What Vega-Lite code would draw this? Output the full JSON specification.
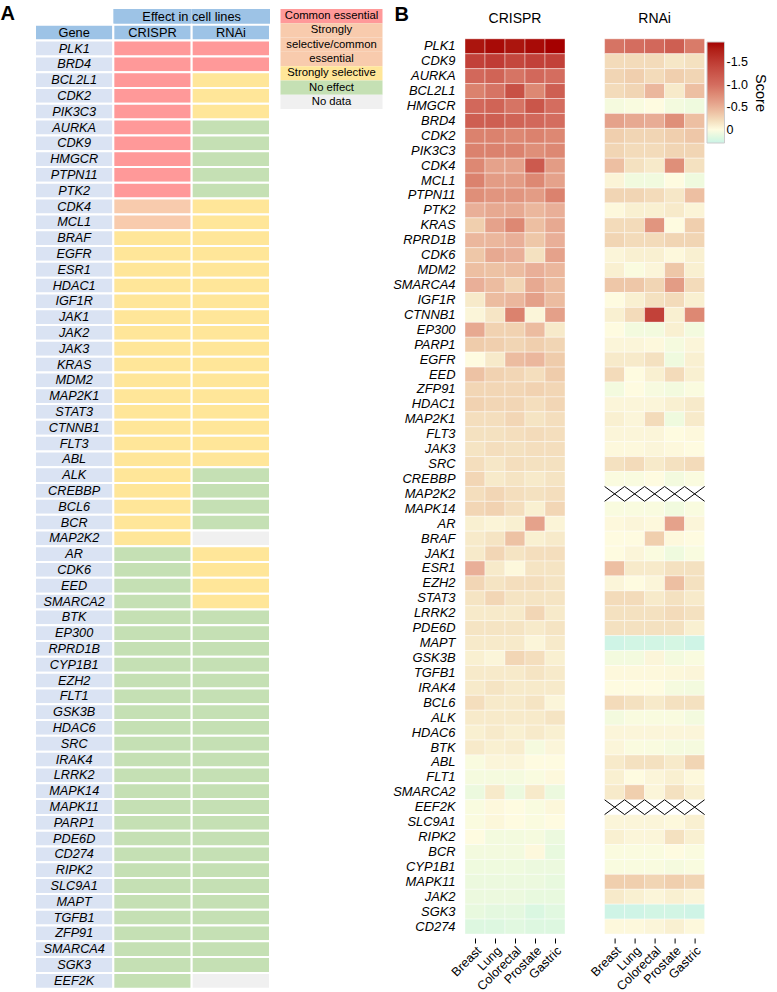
{
"$schema": "https://vega.github.io/schema/vega-lite/v6.json",
"padding": {"left": 0, "top": 4, "right": 0, "bottom": 0},
"background": "white",
"config": {"view": {"stroke": null}, "font": "Liberation Sans",
  "legend": {"labelFontSize": 12.5, "labelColor": "black", "labelOffset": 10, "labelFont": "Liberation Sans",
    "titleFontSize": 14.5, "titleFontWeight": "normal", "titleColor": "black", "titleFont": "Liberation Sans",
    "gradientLength": 101, "gradientThickness": 17.5, "gradientStrokeColor": "#cccccc", "gradientStrokeWidth": 1}},
"spacing": 9.5,
"datasets": {
"effectHeader": [{"row": "h1", "col": "CRISPR", "cat": "header"}, {"row": "h1", "col": "RNAi", "cat": "header"}],
"legendA": [
{"slot": "L1", "cat": "CE", "label": "Common essential"},
{"slot": "L2", "cat": "SC", "label": "Strongly"},
{"slot": "L3", "cat": "SC", "label": "selective/common"},
{"slot": "L4", "cat": "SC", "label": "essential"},
{"slot": "L5", "cat": "SS", "label": "Strongly selective"},
{"slot": "L6", "cat": "NE", "label": "No effect"},
{"slot": "L7", "cat": "ND", "label": "No data"}
],
"tableCells": [
{"row":"h2","col":"Gene","cat":"header","label":"Gene"},{"row":"h2","col":"CRISPR","cat":"header","label":"CRISPR"},{"row":"h2","col":"RNAi","cat":"header","label":"RNAi"},
{"row":"PLK1","col":"Gene","cat":"gene","label":"PLK1"},{"row":"PLK1","col":"CRISPR","cat":"CE"},{"row":"PLK1","col":"RNAi","cat":"CE"},
{"row":"BRD4","col":"Gene","cat":"gene","label":"BRD4"},{"row":"BRD4","col":"CRISPR","cat":"CE"},{"row":"BRD4","col":"RNAi","cat":"CE"},
{"row":"BCL2L1","col":"Gene","cat":"gene","label":"BCL2L1"},{"row":"BCL2L1","col":"CRISPR","cat":"CE"},{"row":"BCL2L1","col":"RNAi","cat":"SS"},
{"row":"CDK2","col":"Gene","cat":"gene","label":"CDK2"},{"row":"CDK2","col":"CRISPR","cat":"CE"},{"row":"CDK2","col":"RNAi","cat":"SS"},
{"row":"PIK3C3","col":"Gene","cat":"gene","label":"PIK3C3"},{"row":"PIK3C3","col":"CRISPR","cat":"CE"},{"row":"PIK3C3","col":"RNAi","cat":"SS"},
{"row":"AURKA","col":"Gene","cat":"gene","label":"AURKA"},{"row":"AURKA","col":"CRISPR","cat":"CE"},{"row":"AURKA","col":"RNAi","cat":"NE"},
{"row":"CDK9","col":"Gene","cat":"gene","label":"CDK9"},{"row":"CDK9","col":"CRISPR","cat":"CE"},{"row":"CDK9","col":"RNAi","cat":"NE"},
{"row":"HMGCR","col":"Gene","cat":"gene","label":"HMGCR"},{"row":"HMGCR","col":"CRISPR","cat":"CE"},{"row":"HMGCR","col":"RNAi","cat":"NE"},
{"row":"PTPN11","col":"Gene","cat":"gene","label":"PTPN11"},{"row":"PTPN11","col":"CRISPR","cat":"CE"},{"row":"PTPN11","col":"RNAi","cat":"NE"},
{"row":"PTK2","col":"Gene","cat":"gene","label":"PTK2"},{"row":"PTK2","col":"CRISPR","cat":"CE"},{"row":"PTK2","col":"RNAi","cat":"NE"},
{"row":"CDK4","col":"Gene","cat":"gene","label":"CDK4"},{"row":"CDK4","col":"CRISPR","cat":"SC"},{"row":"CDK4","col":"RNAi","cat":"SS"},
{"row":"MCL1","col":"Gene","cat":"gene","label":"MCL1"},{"row":"MCL1","col":"CRISPR","cat":"SC"},{"row":"MCL1","col":"RNAi","cat":"SS"},
{"row":"BRAF","col":"Gene","cat":"gene","label":"BRAF"},{"row":"BRAF","col":"CRISPR","cat":"SS"},{"row":"BRAF","col":"RNAi","cat":"SS"},
{"row":"EGFR","col":"Gene","cat":"gene","label":"EGFR"},{"row":"EGFR","col":"CRISPR","cat":"SS"},{"row":"EGFR","col":"RNAi","cat":"SS"},
{"row":"ESR1","col":"Gene","cat":"gene","label":"ESR1"},{"row":"ESR1","col":"CRISPR","cat":"SS"},{"row":"ESR1","col":"RNAi","cat":"SS"},
{"row":"HDAC1","col":"Gene","cat":"gene","label":"HDAC1"},{"row":"HDAC1","col":"CRISPR","cat":"SS"},{"row":"HDAC1","col":"RNAi","cat":"SS"},
{"row":"IGF1R","col":"Gene","cat":"gene","label":"IGF1R"},{"row":"IGF1R","col":"CRISPR","cat":"SS"},{"row":"IGF1R","col":"RNAi","cat":"SS"},
{"row":"JAK1","col":"Gene","cat":"gene","label":"JAK1"},{"row":"JAK1","col":"CRISPR","cat":"SS"},{"row":"JAK1","col":"RNAi","cat":"SS"},
{"row":"JAK2","col":"Gene","cat":"gene","label":"JAK2"},{"row":"JAK2","col":"CRISPR","cat":"SS"},{"row":"JAK2","col":"RNAi","cat":"SS"},
{"row":"JAK3","col":"Gene","cat":"gene","label":"JAK3"},{"row":"JAK3","col":"CRISPR","cat":"SS"},{"row":"JAK3","col":"RNAi","cat":"SS"},
{"row":"KRAS","col":"Gene","cat":"gene","label":"KRAS"},{"row":"KRAS","col":"CRISPR","cat":"SS"},{"row":"KRAS","col":"RNAi","cat":"SS"},
{"row":"MDM2","col":"Gene","cat":"gene","label":"MDM2"},{"row":"MDM2","col":"CRISPR","cat":"SS"},{"row":"MDM2","col":"RNAi","cat":"SS"},
{"row":"MAP2K1","col":"Gene","cat":"gene","label":"MAP2K1"},{"row":"MAP2K1","col":"CRISPR","cat":"SS"},{"row":"MAP2K1","col":"RNAi","cat":"SS"},
{"row":"STAT3","col":"Gene","cat":"gene","label":"STAT3"},{"row":"STAT3","col":"CRISPR","cat":"SS"},{"row":"STAT3","col":"RNAi","cat":"SS"},
{"row":"CTNNB1","col":"Gene","cat":"gene","label":"CTNNB1"},{"row":"CTNNB1","col":"CRISPR","cat":"SS"},{"row":"CTNNB1","col":"RNAi","cat":"SS"},
{"row":"FLT3","col":"Gene","cat":"gene","label":"FLT3"},{"row":"FLT3","col":"CRISPR","cat":"SS"},{"row":"FLT3","col":"RNAi","cat":"SS"},
{"row":"ABL","col":"Gene","cat":"gene","label":"ABL"},{"row":"ABL","col":"CRISPR","cat":"SS"},{"row":"ABL","col":"RNAi","cat":"SS"},
{"row":"ALK","col":"Gene","cat":"gene","label":"ALK"},{"row":"ALK","col":"CRISPR","cat":"SS"},{"row":"ALK","col":"RNAi","cat":"NE"},
{"row":"CREBBP","col":"Gene","cat":"gene","label":"CREBBP"},{"row":"CREBBP","col":"CRISPR","cat":"SS"},{"row":"CREBBP","col":"RNAi","cat":"NE"},
{"row":"BCL6","col":"Gene","cat":"gene","label":"BCL6"},{"row":"BCL6","col":"CRISPR","cat":"SS"},{"row":"BCL6","col":"RNAi","cat":"NE"},
{"row":"BCR","col":"Gene","cat":"gene","label":"BCR"},{"row":"BCR","col":"CRISPR","cat":"SS"},{"row":"BCR","col":"RNAi","cat":"NE"},
{"row":"MAP2K2","col":"Gene","cat":"gene","label":"MAP2K2"},{"row":"MAP2K2","col":"CRISPR","cat":"SS"},{"row":"MAP2K2","col":"RNAi","cat":"ND"},
{"row":"AR","col":"Gene","cat":"gene","label":"AR"},{"row":"AR","col":"CRISPR","cat":"NE"},{"row":"AR","col":"RNAi","cat":"SS"},
{"row":"CDK6","col":"Gene","cat":"gene","label":"CDK6"},{"row":"CDK6","col":"CRISPR","cat":"NE"},{"row":"CDK6","col":"RNAi","cat":"SS"},
{"row":"EED","col":"Gene","cat":"gene","label":"EED"},{"row":"EED","col":"CRISPR","cat":"NE"},{"row":"EED","col":"RNAi","cat":"SS"},
{"row":"SMARCA2","col":"Gene","cat":"gene","label":"SMARCA2"},{"row":"SMARCA2","col":"CRISPR","cat":"NE"},{"row":"SMARCA2","col":"RNAi","cat":"SS"},
{"row":"BTK","col":"Gene","cat":"gene","label":"BTK"},{"row":"BTK","col":"CRISPR","cat":"NE"},{"row":"BTK","col":"RNAi","cat":"NE"},
{"row":"EP300","col":"Gene","cat":"gene","label":"EP300"},{"row":"EP300","col":"CRISPR","cat":"NE"},{"row":"EP300","col":"RNAi","cat":"NE"},
{"row":"RPRD1B","col":"Gene","cat":"gene","label":"RPRD1B"},{"row":"RPRD1B","col":"CRISPR","cat":"NE"},{"row":"RPRD1B","col":"RNAi","cat":"NE"},
{"row":"CYP1B1","col":"Gene","cat":"gene","label":"CYP1B1"},{"row":"CYP1B1","col":"CRISPR","cat":"NE"},{"row":"CYP1B1","col":"RNAi","cat":"NE"},
{"row":"EZH2","col":"Gene","cat":"gene","label":"EZH2"},{"row":"EZH2","col":"CRISPR","cat":"NE"},{"row":"EZH2","col":"RNAi","cat":"NE"},
{"row":"FLT1","col":"Gene","cat":"gene","label":"FLT1"},{"row":"FLT1","col":"CRISPR","cat":"NE"},{"row":"FLT1","col":"RNAi","cat":"NE"},
{"row":"GSK3B","col":"Gene","cat":"gene","label":"GSK3B"},{"row":"GSK3B","col":"CRISPR","cat":"NE"},{"row":"GSK3B","col":"RNAi","cat":"NE"},
{"row":"HDAC6","col":"Gene","cat":"gene","label":"HDAC6"},{"row":"HDAC6","col":"CRISPR","cat":"NE"},{"row":"HDAC6","col":"RNAi","cat":"NE"},
{"row":"SRC","col":"Gene","cat":"gene","label":"SRC"},{"row":"SRC","col":"CRISPR","cat":"NE"},{"row":"SRC","col":"RNAi","cat":"NE"},
{"row":"IRAK4","col":"Gene","cat":"gene","label":"IRAK4"},{"row":"IRAK4","col":"CRISPR","cat":"NE"},{"row":"IRAK4","col":"RNAi","cat":"NE"},
{"row":"LRRK2","col":"Gene","cat":"gene","label":"LRRK2"},{"row":"LRRK2","col":"CRISPR","cat":"NE"},{"row":"LRRK2","col":"RNAi","cat":"NE"},
{"row":"MAPK14","col":"Gene","cat":"gene","label":"MAPK14"},{"row":"MAPK14","col":"CRISPR","cat":"NE"},{"row":"MAPK14","col":"RNAi","cat":"NE"},
{"row":"MAPK11","col":"Gene","cat":"gene","label":"MAPK11"},{"row":"MAPK11","col":"CRISPR","cat":"NE"},{"row":"MAPK11","col":"RNAi","cat":"NE"},
{"row":"PARP1","col":"Gene","cat":"gene","label":"PARP1"},{"row":"PARP1","col":"CRISPR","cat":"NE"},{"row":"PARP1","col":"RNAi","cat":"NE"},
{"row":"PDE6D","col":"Gene","cat":"gene","label":"PDE6D"},{"row":"PDE6D","col":"CRISPR","cat":"NE"},{"row":"PDE6D","col":"RNAi","cat":"NE"},
{"row":"CD274","col":"Gene","cat":"gene","label":"CD274"},{"row":"CD274","col":"CRISPR","cat":"NE"},{"row":"CD274","col":"RNAi","cat":"NE"},
{"row":"RIPK2","col":"Gene","cat":"gene","label":"RIPK2"},{"row":"RIPK2","col":"CRISPR","cat":"NE"},{"row":"RIPK2","col":"RNAi","cat":"NE"},
{"row":"SLC9A1","col":"Gene","cat":"gene","label":"SLC9A1"},{"row":"SLC9A1","col":"CRISPR","cat":"NE"},{"row":"SLC9A1","col":"RNAi","cat":"NE"},
{"row":"MAPT","col":"Gene","cat":"gene","label":"MAPT"},{"row":"MAPT","col":"CRISPR","cat":"NE"},{"row":"MAPT","col":"RNAi","cat":"NE"},
{"row":"TGFB1","col":"Gene","cat":"gene","label":"TGFB1"},{"row":"TGFB1","col":"CRISPR","cat":"NE"},{"row":"TGFB1","col":"RNAi","cat":"NE"},
{"row":"ZFP91","col":"Gene","cat":"gene","label":"ZFP91"},{"row":"ZFP91","col":"CRISPR","cat":"NE"},{"row":"ZFP91","col":"RNAi","cat":"NE"},
{"row":"SMARCA4","col":"Gene","cat":"gene","label":"SMARCA4"},{"row":"SMARCA4","col":"CRISPR","cat":"NE"},{"row":"SMARCA4","col":"RNAi","cat":"NE"},
{"row":"SGK3","col":"Gene","cat":"gene","label":"SGK3"},{"row":"SGK3","col":"CRISPR","cat":"NE"},{"row":"SGK3","col":"RNAi","cat":"NE"},
{"row":"EEF2K","col":"Gene","cat":"gene","label":"EEF2K"},{"row":"EEF2K","col":"CRISPR","cat":"NE"},{"row":"EEF2K","col":"RNAi","cat":"ND"}
],
"heat": [
{"g":"PLK1","m":"CRISPR","l":"Breast","s":-1.85},{"g":"PLK1","m":"CRISPR","l":"Lung","s":-1.9},{"g":"PLK1","m":"CRISPR","l":"Colorectal","s":-1.85},{"g":"PLK1","m":"CRISPR","l":"Prostate","s":-1.9},{"g":"PLK1","m":"CRISPR","l":"Gastric","s":-1.95},
{"g":"CDK9","m":"CRISPR","l":"Breast","s":-1.45},{"g":"CDK9","m":"CRISPR","l":"Lung","s":-1.5},{"g":"CDK9","m":"CRISPR","l":"Colorectal","s":-1.4},{"g":"CDK9","m":"CRISPR","l":"Prostate","s":-1.45},{"g":"CDK9","m":"CRISPR","l":"Gastric","s":-1.45},
{"g":"AURKA","m":"CRISPR","l":"Breast","s":-1.05},{"g":"AURKA","m":"CRISPR","l":"Lung","s":-1.1},{"g":"AURKA","m":"CRISPR","l":"Colorectal","s":-0.95},{"g":"AURKA","m":"CRISPR","l":"Prostate","s":-1.05},{"g":"AURKA","m":"CRISPR","l":"Gastric","s":-1.0},
{"g":"BCL2L1","m":"CRISPR","l":"Breast","s":-0.85},{"g":"BCL2L1","m":"CRISPR","l":"Lung","s":-0.95},{"g":"BCL2L1","m":"CRISPR","l":"Colorectal","s":-1.3},{"g":"BCL2L1","m":"CRISPR","l":"Prostate","s":-0.8},{"g":"BCL2L1","m":"CRISPR","l":"Gastric","s":-1.15},
{"g":"HMGCR","m":"CRISPR","l":"Breast","s":-1.05},{"g":"HMGCR","m":"CRISPR","l":"Lung","s":-1.1},{"g":"HMGCR","m":"CRISPR","l":"Colorectal","s":-0.95},{"g":"HMGCR","m":"CRISPR","l":"Prostate","s":-1.25},{"g":"HMGCR","m":"CRISPR","l":"Gastric","s":-1.0},
{"g":"BRD4","m":"CRISPR","l":"Breast","s":-1.15},{"g":"BRD4","m":"CRISPR","l":"Lung","s":-1.15},{"g":"BRD4","m":"CRISPR","l":"Colorectal","s":-1.1},{"g":"BRD4","m":"CRISPR","l":"Prostate","s":-1.05},{"g":"BRD4","m":"CRISPR","l":"Gastric","s":-1.0},
{"g":"CDK2","m":"CRISPR","l":"Breast","s":-0.85},{"g":"CDK2","m":"CRISPR","l":"Lung","s":-0.85},{"g":"CDK2","m":"CRISPR","l":"Colorectal","s":-0.8},{"g":"CDK2","m":"CRISPR","l":"Prostate","s":-0.85},{"g":"CDK2","m":"CRISPR","l":"Gastric","s":-0.8},
{"g":"PIK3C3","m":"CRISPR","l":"Breast","s":-0.85},{"g":"PIK3C3","m":"CRISPR","l":"Lung","s":-0.85},{"g":"PIK3C3","m":"CRISPR","l":"Colorectal","s":-0.85},{"g":"PIK3C3","m":"CRISPR","l":"Prostate","s":-0.75},{"g":"PIK3C3","m":"CRISPR","l":"Gastric","s":-0.8},
{"g":"CDK4","m":"CRISPR","l":"Breast","s":-0.8},{"g":"CDK4","m":"CRISPR","l":"Lung","s":-0.6},{"g":"CDK4","m":"CRISPR","l":"Colorectal","s":-0.6},{"g":"CDK4","m":"CRISPR","l":"Prostate","s":-1.2},{"g":"CDK4","m":"CRISPR","l":"Gastric","s":-0.65},
{"g":"MCL1","m":"CRISPR","l":"Breast","s":-0.85},{"g":"MCL1","m":"CRISPR","l":"Lung","s":-0.65},{"g":"MCL1","m":"CRISPR","l":"Colorectal","s":-0.65},{"g":"MCL1","m":"CRISPR","l":"Prostate","s":-0.8},{"g":"MCL1","m":"CRISPR","l":"Gastric","s":-0.6},
{"g":"PTPN11","m":"CRISPR","l":"Breast","s":-0.75},{"g":"PTPN11","m":"CRISPR","l":"Lung","s":-0.7},{"g":"PTPN11","m":"CRISPR","l":"Colorectal","s":-0.7},{"g":"PTPN11","m":"CRISPR","l":"Prostate","s":-0.65},{"g":"PTPN11","m":"CRISPR","l":"Gastric","s":-0.85},
{"g":"PTK2","m":"CRISPR","l":"Breast","s":-0.5},{"g":"PTK2","m":"CRISPR","l":"Lung","s":-0.55},{"g":"PTK2","m":"CRISPR","l":"Colorectal","s":-0.55},{"g":"PTK2","m":"CRISPR","l":"Prostate","s":-0.45},{"g":"PTK2","m":"CRISPR","l":"Gastric","s":-0.5},
{"g":"KRAS","m":"CRISPR","l":"Breast","s":-0.3},{"g":"KRAS","m":"CRISPR","l":"Lung","s":-0.6},{"g":"KRAS","m":"CRISPR","l":"Colorectal","s":-0.8},{"g":"KRAS","m":"CRISPR","l":"Prostate","s":-0.4},{"g":"KRAS","m":"CRISPR","l":"Gastric","s":-0.55},
{"g":"RPRD1B","m":"CRISPR","l":"Breast","s":-0.45},{"g":"RPRD1B","m":"CRISPR","l":"Lung","s":-0.45},{"g":"RPRD1B","m":"CRISPR","l":"Colorectal","s":-0.5},{"g":"RPRD1B","m":"CRISPR","l":"Prostate","s":-0.35},{"g":"RPRD1B","m":"CRISPR","l":"Gastric","s":-0.5},
{"g":"CDK6","m":"CRISPR","l":"Breast","s":-0.35},{"g":"CDK6","m":"CRISPR","l":"Lung","s":-0.55},{"g":"CDK6","m":"CRISPR","l":"Colorectal","s":-0.5},{"g":"CDK6","m":"CRISPR","l":"Prostate","s":-0.18},{"g":"CDK6","m":"CRISPR","l":"Gastric","s":-0.6},
{"g":"MDM2","m":"CRISPR","l":"Breast","s":-0.4},{"g":"MDM2","m":"CRISPR","l":"Lung","s":-0.38},{"g":"MDM2","m":"CRISPR","l":"Colorectal","s":-0.42},{"g":"MDM2","m":"CRISPR","l":"Prostate","s":-0.5},{"g":"MDM2","m":"CRISPR","l":"Gastric","s":-0.45},
{"g":"SMARCA4","m":"CRISPR","l":"Breast","s":-0.5},{"g":"SMARCA4","m":"CRISPR","l":"Lung","s":-0.42},{"g":"SMARCA4","m":"CRISPR","l":"Colorectal","s":-0.25},{"g":"SMARCA4","m":"CRISPR","l":"Prostate","s":-0.55},{"g":"SMARCA4","m":"CRISPR","l":"Gastric","s":-0.42},
{"g":"IGF1R","m":"CRISPR","l":"Breast","s":-0.12},{"g":"IGF1R","m":"CRISPR","l":"Lung","s":-0.42},{"g":"IGF1R","m":"CRISPR","l":"Colorectal","s":-0.45},{"g":"IGF1R","m":"CRISPR","l":"Prostate","s":-0.62},{"g":"IGF1R","m":"CRISPR","l":"Gastric","s":-0.42},
{"g":"CTNNB1","m":"CRISPR","l":"Breast","s":-0.04},{"g":"CTNNB1","m":"CRISPR","l":"Lung","s":-0.15},{"g":"CTNNB1","m":"CRISPR","l":"Colorectal","s":-0.85},{"g":"CTNNB1","m":"CRISPR","l":"Prostate","s":-0.04},{"g":"CTNNB1","m":"CRISPR","l":"Gastric","s":-0.62},
{"g":"EP300","m":"CRISPR","l":"Breast","s":-0.55},{"g":"EP300","m":"CRISPR","l":"Lung","s":-0.28},{"g":"EP300","m":"CRISPR","l":"Colorectal","s":-0.28},{"g":"EP300","m":"CRISPR","l":"Prostate","s":-0.42},{"g":"EP300","m":"CRISPR","l":"Gastric","s":-0.12},
{"g":"PARP1","m":"CRISPR","l":"Breast","s":-0.32},{"g":"PARP1","m":"CRISPR","l":"Lung","s":-0.3},{"g":"PARP1","m":"CRISPR","l":"Colorectal","s":-0.26},{"g":"PARP1","m":"CRISPR","l":"Prostate","s":-0.3},{"g":"PARP1","m":"CRISPR","l":"Gastric","s":-0.26},
{"g":"EGFR","m":"CRISPR","l":"Breast","s":0.0},{"g":"EGFR","m":"CRISPR","l":"Lung","s":-0.12},{"g":"EGFR","m":"CRISPR","l":"Colorectal","s":-0.42},{"g":"EGFR","m":"CRISPR","l":"Prostate","s":-0.45},{"g":"EGFR","m":"CRISPR","l":"Gastric","s":-0.32},
{"g":"EED","m":"CRISPR","l":"Breast","s":-0.38},{"g":"EED","m":"CRISPR","l":"Lung","s":-0.28},{"g":"EED","m":"CRISPR","l":"Colorectal","s":-0.25},{"g":"EED","m":"CRISPR","l":"Prostate","s":-0.2},{"g":"EED","m":"CRISPR","l":"Gastric","s":-0.32},
{"g":"ZFP91","m":"CRISPR","l":"Breast","s":-0.25},{"g":"ZFP91","m":"CRISPR","l":"Lung","s":-0.25},{"g":"ZFP91","m":"CRISPR","l":"Colorectal","s":-0.25},{"g":"ZFP91","m":"CRISPR","l":"Prostate","s":-0.28},{"g":"ZFP91","m":"CRISPR","l":"Gastric","s":-0.25},
{"g":"HDAC1","m":"CRISPR","l":"Breast","s":-0.28},{"g":"HDAC1","m":"CRISPR","l":"Lung","s":-0.25},{"g":"HDAC1","m":"CRISPR","l":"Colorectal","s":-0.25},{"g":"HDAC1","m":"CRISPR","l":"Prostate","s":-0.2},{"g":"HDAC1","m":"CRISPR","l":"Gastric","s":-0.25},
{"g":"MAP2K1","m":"CRISPR","l":"Breast","s":-0.2},{"g":"MAP2K1","m":"CRISPR","l":"Lung","s":-0.2},{"g":"MAP2K1","m":"CRISPR","l":"Colorectal","s":-0.25},{"g":"MAP2K1","m":"CRISPR","l":"Prostate","s":-0.16},{"g":"MAP2K1","m":"CRISPR","l":"Gastric","s":-0.2},
{"g":"FLT3","m":"CRISPR","l":"Breast","s":-0.18},{"g":"FLT3","m":"CRISPR","l":"Lung","s":-0.18},{"g":"FLT3","m":"CRISPR","l":"Colorectal","s":-0.2},{"g":"FLT3","m":"CRISPR","l":"Prostate","s":-0.22},{"g":"FLT3","m":"CRISPR","l":"Gastric","s":-0.2},
{"g":"JAK3","m":"CRISPR","l":"Breast","s":-0.16},{"g":"JAK3","m":"CRISPR","l":"Lung","s":-0.2},{"g":"JAK3","m":"CRISPR","l":"Colorectal","s":-0.18},{"g":"JAK3","m":"CRISPR","l":"Prostate","s":-0.2},{"g":"JAK3","m":"CRISPR","l":"Gastric","s":-0.2},
{"g":"SRC","m":"CRISPR","l":"Breast","s":-0.2},{"g":"SRC","m":"CRISPR","l":"Lung","s":-0.14},{"g":"SRC","m":"CRISPR","l":"Colorectal","s":-0.2},{"g":"SRC","m":"CRISPR","l":"Prostate","s":-0.18},{"g":"SRC","m":"CRISPR","l":"Gastric","s":-0.18},
{"g":"CREBBP","m":"CRISPR","l":"Breast","s":-0.25},{"g":"CREBBP","m":"CRISPR","l":"Lung","s":-0.12},{"g":"CREBBP","m":"CRISPR","l":"Colorectal","s":-0.16},{"g":"CREBBP","m":"CRISPR","l":"Prostate","s":-0.12},{"g":"CREBBP","m":"CRISPR","l":"Gastric","s":-0.16},
{"g":"MAP2K2","m":"CRISPR","l":"Breast","s":-0.2},{"g":"MAP2K2","m":"CRISPR","l":"Lung","s":-0.25},{"g":"MAP2K2","m":"CRISPR","l":"Colorectal","s":-0.2},{"g":"MAP2K2","m":"CRISPR","l":"Prostate","s":-0.18},{"g":"MAP2K2","m":"CRISPR","l":"Gastric","s":-0.2},
{"g":"MAPK14","m":"CRISPR","l":"Breast","s":-0.25},{"g":"MAPK14","m":"CRISPR","l":"Lung","s":-0.28},{"g":"MAPK14","m":"CRISPR","l":"Colorectal","s":-0.2},{"g":"MAPK14","m":"CRISPR","l":"Prostate","s":-0.08},{"g":"MAPK14","m":"CRISPR","l":"Gastric","s":-0.25},
{"g":"AR","m":"CRISPR","l":"Breast","s":-0.08},{"g":"AR","m":"CRISPR","l":"Lung","s":-0.05},{"g":"AR","m":"CRISPR","l":"Colorectal","s":-0.08},{"g":"AR","m":"CRISPR","l":"Prostate","s":-0.6},{"g":"AR","m":"CRISPR","l":"Gastric","s":-0.05},
{"g":"BRAF","m":"CRISPR","l":"Breast","s":-0.12},{"g":"BRAF","m":"CRISPR","l":"Lung","s":-0.16},{"g":"BRAF","m":"CRISPR","l":"Colorectal","s":-0.38},{"g":"BRAF","m":"CRISPR","l":"Prostate","s":-0.08},{"g":"BRAF","m":"CRISPR","l":"Gastric","s":-0.12},
{"g":"JAK1","m":"CRISPR","l":"Breast","s":-0.12},{"g":"JAK1","m":"CRISPR","l":"Lung","s":-0.25},{"g":"JAK1","m":"CRISPR","l":"Colorectal","s":-0.16},{"g":"JAK1","m":"CRISPR","l":"Prostate","s":-0.2},{"g":"JAK1","m":"CRISPR","l":"Gastric","s":-0.2},
{"g":"ESR1","m":"CRISPR","l":"Breast","s":-0.5},{"g":"ESR1","m":"CRISPR","l":"Lung","s":-0.12},{"g":"ESR1","m":"CRISPR","l":"Colorectal","s":-0.02},{"g":"ESR1","m":"CRISPR","l":"Prostate","s":-0.16},{"g":"ESR1","m":"CRISPR","l":"Gastric","s":-0.16},
{"g":"EZH2","m":"CRISPR","l":"Breast","s":-0.25},{"g":"EZH2","m":"CRISPR","l":"Lung","s":-0.16},{"g":"EZH2","m":"CRISPR","l":"Colorectal","s":-0.2},{"g":"EZH2","m":"CRISPR","l":"Prostate","s":-0.2},{"g":"EZH2","m":"CRISPR","l":"Gastric","s":-0.16},
{"g":"STAT3","m":"CRISPR","l":"Breast","s":-0.16},{"g":"STAT3","m":"CRISPR","l":"Lung","s":-0.25},{"g":"STAT3","m":"CRISPR","l":"Colorectal","s":-0.16},{"g":"STAT3","m":"CRISPR","l":"Prostate","s":-0.16},{"g":"STAT3","m":"CRISPR","l":"Gastric","s":-0.16},
{"g":"LRRK2","m":"CRISPR","l":"Breast","s":-0.12},{"g":"LRRK2","m":"CRISPR","l":"Lung","s":-0.12},{"g":"LRRK2","m":"CRISPR","l":"Colorectal","s":-0.12},{"g":"LRRK2","m":"CRISPR","l":"Prostate","s":-0.25},{"g":"LRRK2","m":"CRISPR","l":"Gastric","s":-0.12},
{"g":"PDE6D","m":"CRISPR","l":"Breast","s":-0.16},{"g":"PDE6D","m":"CRISPR","l":"Lung","s":-0.16},{"g":"PDE6D","m":"CRISPR","l":"Colorectal","s":-0.16},{"g":"PDE6D","m":"CRISPR","l":"Prostate","s":-0.12},{"g":"PDE6D","m":"CRISPR","l":"Gastric","s":-0.16},
{"g":"MAPT","m":"CRISPR","l":"Breast","s":-0.12},{"g":"MAPT","m":"CRISPR","l":"Lung","s":-0.12},{"g":"MAPT","m":"CRISPR","l":"Colorectal","s":-0.12},{"g":"MAPT","m":"CRISPR","l":"Prostate","s":-0.04},{"g":"MAPT","m":"CRISPR","l":"Gastric","s":-0.12},
{"g":"GSK3B","m":"CRISPR","l":"Breast","s":-0.08},{"g":"GSK3B","m":"CRISPR","l":"Lung","s":-0.04},{"g":"GSK3B","m":"CRISPR","l":"Colorectal","s":-0.25},{"g":"GSK3B","m":"CRISPR","l":"Prostate","s":-0.2},{"g":"GSK3B","m":"CRISPR","l":"Gastric","s":-0.08},
{"g":"TGFB1","m":"CRISPR","l":"Breast","s":-0.12},{"g":"TGFB1","m":"CRISPR","l":"Lung","s":-0.12},{"g":"TGFB1","m":"CRISPR","l":"Colorectal","s":-0.12},{"g":"TGFB1","m":"CRISPR","l":"Prostate","s":-0.16},{"g":"TGFB1","m":"CRISPR","l":"Gastric","s":-0.12},
{"g":"IRAK4","m":"CRISPR","l":"Breast","s":-0.12},{"g":"IRAK4","m":"CRISPR","l":"Lung","s":-0.16},{"g":"IRAK4","m":"CRISPR","l":"Colorectal","s":-0.12},{"g":"IRAK4","m":"CRISPR","l":"Prostate","s":-0.12},{"g":"IRAK4","m":"CRISPR","l":"Gastric","s":-0.12},
{"g":"BCL6","m":"CRISPR","l":"Breast","s":-0.2},{"g":"BCL6","m":"CRISPR","l":"Lung","s":-0.12},{"g":"BCL6","m":"CRISPR","l":"Colorectal","s":-0.12},{"g":"BCL6","m":"CRISPR","l":"Prostate","s":-0.16},{"g":"BCL6","m":"CRISPR","l":"Gastric","s":-0.04},
{"g":"ALK","m":"CRISPR","l":"Breast","s":-0.12},{"g":"ALK","m":"CRISPR","l":"Lung","s":-0.12},{"g":"ALK","m":"CRISPR","l":"Colorectal","s":-0.12},{"g":"ALK","m":"CRISPR","l":"Prostate","s":-0.12},{"g":"ALK","m":"CRISPR","l":"Gastric","s":-0.16},
{"g":"HDAC6","m":"CRISPR","l":"Breast","s":-0.08},{"g":"HDAC6","m":"CRISPR","l":"Lung","s":-0.12},{"g":"HDAC6","m":"CRISPR","l":"Colorectal","s":-0.08},{"g":"HDAC6","m":"CRISPR","l":"Prostate","s":-0.12},{"g":"HDAC6","m":"CRISPR","l":"Gastric","s":-0.08},
{"g":"BTK","m":"CRISPR","l":"Breast","s":-0.12},{"g":"BTK","m":"CRISPR","l":"Lung","s":-0.08},{"g":"BTK","m":"CRISPR","l":"Colorectal","s":-0.1},{"g":"BTK","m":"CRISPR","l":"Prostate","s":0.05},{"g":"BTK","m":"CRISPR","l":"Gastric","s":-0.04},
{"g":"ABL","m":"CRISPR","l":"Breast","s":0.03},{"g":"ABL","m":"CRISPR","l":"Lung","s":-0.04},{"g":"ABL","m":"CRISPR","l":"Colorectal","s":-0.04},{"g":"ABL","m":"CRISPR","l":"Prostate","s":0.0},{"g":"ABL","m":"CRISPR","l":"Gastric","s":0.0},
{"g":"FLT1","m":"CRISPR","l":"Breast","s":0.05},{"g":"FLT1","m":"CRISPR","l":"Lung","s":0.05},{"g":"FLT1","m":"CRISPR","l":"Colorectal","s":0.05},{"g":"FLT1","m":"CRISPR","l":"Prostate","s":0.03},{"g":"FLT1","m":"CRISPR","l":"Gastric","s":-0.02},
{"g":"SMARCA2","m":"CRISPR","l":"Breast","s":0.1},{"g":"SMARCA2","m":"CRISPR","l":"Lung","s":-0.12},{"g":"SMARCA2","m":"CRISPR","l":"Colorectal","s":0.1},{"g":"SMARCA2","m":"CRISPR","l":"Prostate","s":-0.12},{"g":"SMARCA2","m":"CRISPR","l":"Gastric","s":0.1},
{"g":"EEF2K","m":"CRISPR","l":"Breast","s":0.03},{"g":"EEF2K","m":"CRISPR","l":"Lung","s":-0.02},{"g":"EEF2K","m":"CRISPR","l":"Colorectal","s":0.0},{"g":"EEF2K","m":"CRISPR","l":"Prostate","s":0.03},{"g":"EEF2K","m":"CRISPR","l":"Gastric","s":-0.03},
{"g":"SLC9A1","m":"CRISPR","l":"Breast","s":0.02},{"g":"SLC9A1","m":"CRISPR","l":"Lung","s":-0.03},{"g":"SLC9A1","m":"CRISPR","l":"Colorectal","s":0.0},{"g":"SLC9A1","m":"CRISPR","l":"Prostate","s":0.02},{"g":"SLC9A1","m":"CRISPR","l":"Gastric","s":0.0},
{"g":"RIPK2","m":"CRISPR","l":"Breast","s":0.0},{"g":"RIPK2","m":"CRISPR","l":"Lung","s":0.06},{"g":"RIPK2","m":"CRISPR","l":"Colorectal","s":0.06},{"g":"RIPK2","m":"CRISPR","l":"Prostate","s":0.05},{"g":"RIPK2","m":"CRISPR","l":"Gastric","s":0.1},
{"g":"BCR","m":"CRISPR","l":"Breast","s":0.06},{"g":"BCR","m":"CRISPR","l":"Lung","s":0.06},{"g":"BCR","m":"CRISPR","l":"Colorectal","s":0.06},{"g":"BCR","m":"CRISPR","l":"Prostate","s":-0.02},{"g":"BCR","m":"CRISPR","l":"Gastric","s":0.12},
{"g":"CYP1B1","m":"CRISPR","l":"Breast","s":0.08},{"g":"CYP1B1","m":"CRISPR","l":"Lung","s":0.08},{"g":"CYP1B1","m":"CRISPR","l":"Colorectal","s":0.08},{"g":"CYP1B1","m":"CRISPR","l":"Prostate","s":0.1},{"g":"CYP1B1","m":"CRISPR","l":"Gastric","s":0.1},
{"g":"MAPK11","m":"CRISPR","l":"Breast","s":0.1},{"g":"MAPK11","m":"CRISPR","l":"Lung","s":0.1},{"g":"MAPK11","m":"CRISPR","l":"Colorectal","s":0.1},{"g":"MAPK11","m":"CRISPR","l":"Prostate","s":0.1},{"g":"MAPK11","m":"CRISPR","l":"Gastric","s":0.12},
{"g":"JAK2","m":"CRISPR","l":"Breast","s":0.1},{"g":"JAK2","m":"CRISPR","l":"Lung","s":0.1},{"g":"JAK2","m":"CRISPR","l":"Colorectal","s":0.1},{"g":"JAK2","m":"CRISPR","l":"Prostate","s":0.12},{"g":"JAK2","m":"CRISPR","l":"Gastric","s":0.12},
{"g":"SGK3","m":"CRISPR","l":"Breast","s":0.12},{"g":"SGK3","m":"CRISPR","l":"Lung","s":0.14},{"g":"SGK3","m":"CRISPR","l":"Colorectal","s":0.14},{"g":"SGK3","m":"CRISPR","l":"Prostate","s":0.2},{"g":"SGK3","m":"CRISPR","l":"Gastric","s":0.16},
{"g":"CD274","m":"CRISPR","l":"Breast","s":0.18},{"g":"CD274","m":"CRISPR","l":"Lung","s":0.18},{"g":"CD274","m":"CRISPR","l":"Colorectal","s":0.16},{"g":"CD274","m":"CRISPR","l":"Prostate","s":0.18},{"g":"CD274","m":"CRISPR","l":"Gastric","s":0.18},
{"g":"PLK1","m":"RNAi","l":"Breast","s":-0.95},{"g":"PLK1","m":"RNAi","l":"Lung","s":-1.0},{"g":"PLK1","m":"RNAi","l":"Colorectal","s":-1.05},{"g":"PLK1","m":"RNAi","l":"Prostate","s":-1.15},{"g":"PLK1","m":"RNAi","l":"Gastric","s":-0.9},
{"g":"CDK9","m":"RNAi","l":"Breast","s":-0.22},{"g":"CDK9","m":"RNAi","l":"Lung","s":-0.22},{"g":"CDK9","m":"RNAi","l":"Colorectal","s":-0.22},{"g":"CDK9","m":"RNAi","l":"Prostate","s":-0.14},{"g":"CDK9","m":"RNAi","l":"Gastric","s":-0.18},
{"g":"AURKA","m":"RNAi","l":"Breast","s":-0.26},{"g":"AURKA","m":"RNAi","l":"Lung","s":-0.3},{"g":"AURKA","m":"RNAi","l":"Colorectal","s":-0.22},{"g":"AURKA","m":"RNAi","l":"Prostate","s":-0.3},{"g":"AURKA","m":"RNAi","l":"Gastric","s":-0.26},
{"g":"BCL2L1","m":"RNAi","l":"Breast","s":-0.22},{"g":"BCL2L1","m":"RNAi","l":"Lung","s":-0.26},{"g":"BCL2L1","m":"RNAi","l":"Colorectal","s":-0.45},{"g":"BCL2L1","m":"RNAi","l":"Prostate","s":-0.12},{"g":"BCL2L1","m":"RNAi","l":"Gastric","s":-0.4},
{"g":"HMGCR","m":"RNAi","l":"Breast","s":0.05},{"g":"HMGCR","m":"RNAi","l":"Lung","s":0.03},{"g":"HMGCR","m":"RNAi","l":"Colorectal","s":0.0},{"g":"HMGCR","m":"RNAi","l":"Prostate","s":0.06},{"g":"HMGCR","m":"RNAi","l":"Gastric","s":0.08},
{"g":"BRD4","m":"RNAi","l":"Breast","s":-0.6},{"g":"BRD4","m":"RNAi","l":"Lung","s":-0.55},{"g":"BRD4","m":"RNAi","l":"Colorectal","s":-0.52},{"g":"BRD4","m":"RNAi","l":"Prostate","s":-0.75},{"g":"BRD4","m":"RNAi","l":"Gastric","s":-0.4},
{"g":"CDK2","m":"RNAi","l":"Breast","s":-0.3},{"g":"CDK2","m":"RNAi","l":"Lung","s":-0.26},{"g":"CDK2","m":"RNAi","l":"Colorectal","s":-0.26},{"g":"CDK2","m":"RNAi","l":"Prostate","s":-0.3},{"g":"CDK2","m":"RNAi","l":"Gastric","s":-0.35},
{"g":"PIK3C3","m":"RNAi","l":"Breast","s":-0.26},{"g":"PIK3C3","m":"RNAi","l":"Lung","s":-0.22},{"g":"PIK3C3","m":"RNAi","l":"Colorectal","s":-0.22},{"g":"PIK3C3","m":"RNAi","l":"Prostate","s":-0.26},{"g":"PIK3C3","m":"RNAi","l":"Gastric","s":-0.26},
{"g":"CDK4","m":"RNAi","l":"Breast","s":-0.4},{"g":"CDK4","m":"RNAi","l":"Lung","s":-0.18},{"g":"CDK4","m":"RNAi","l":"Colorectal","s":-0.12},{"g":"CDK4","m":"RNAi","l":"Prostate","s":-0.75},{"g":"CDK4","m":"RNAi","l":"Gastric","s":-0.18},
{"g":"MCL1","m":"RNAi","l":"Breast","s":-0.05},{"g":"MCL1","m":"RNAi","l":"Lung","s":0.07},{"g":"MCL1","m":"RNAi","l":"Colorectal","s":0.07},{"g":"MCL1","m":"RNAi","l":"Prostate","s":0.0},{"g":"MCL1","m":"RNAi","l":"Gastric","s":0.08},
{"g":"PTPN11","m":"RNAi","l":"Breast","s":-0.26},{"g":"PTPN11","m":"RNAi","l":"Lung","s":-0.26},{"g":"PTPN11","m":"RNAi","l":"Colorectal","s":-0.22},{"g":"PTPN11","m":"RNAi","l":"Prostate","s":-0.14},{"g":"PTPN11","m":"RNAi","l":"Gastric","s":-0.4},
{"g":"PTK2","m":"RNAi","l":"Breast","s":-0.02},{"g":"PTK2","m":"RNAi","l":"Lung","s":-0.08},{"g":"PTK2","m":"RNAi","l":"Colorectal","s":-0.08},{"g":"PTK2","m":"RNAi","l":"Prostate","s":-0.12},{"g":"PTK2","m":"RNAi","l":"Gastric","s":-0.05},
{"g":"KRAS","m":"RNAi","l":"Breast","s":-0.22},{"g":"KRAS","m":"RNAi","l":"Lung","s":-0.22},{"g":"KRAS","m":"RNAi","l":"Colorectal","s":-0.7},{"g":"KRAS","m":"RNAi","l":"Prostate","s":0.0},{"g":"KRAS","m":"RNAi","l":"Gastric","s":-0.3},
{"g":"RPRD1B","m":"RNAi","l":"Breast","s":-0.26},{"g":"RPRD1B","m":"RNAi","l":"Lung","s":-0.22},{"g":"RPRD1B","m":"RNAi","l":"Colorectal","s":-0.22},{"g":"RPRD1B","m":"RNAi","l":"Prostate","s":-0.26},{"g":"RPRD1B","m":"RNAi","l":"Gastric","s":-0.26},
{"g":"CDK6","m":"RNAi","l":"Breast","s":-0.04},{"g":"CDK6","m":"RNAi","l":"Lung","s":-0.08},{"g":"CDK6","m":"RNAi","l":"Colorectal","s":-0.08},{"g":"CDK6","m":"RNAi","l":"Prostate","s":-0.02},{"g":"CDK6","m":"RNAi","l":"Gastric","s":-0.08},
{"g":"MDM2","m":"RNAi","l":"Breast","s":-0.08},{"g":"MDM2","m":"RNAi","l":"Lung","s":0.02},{"g":"MDM2","m":"RNAi","l":"Colorectal","s":-0.04},{"g":"MDM2","m":"RNAi","l":"Prostate","s":-0.35},{"g":"MDM2","m":"RNAi","l":"Gastric","s":-0.08},
{"g":"SMARCA4","m":"RNAi","l":"Breast","s":-0.35},{"g":"SMARCA4","m":"RNAi","l":"Lung","s":-0.35},{"g":"SMARCA4","m":"RNAi","l":"Colorectal","s":-0.26},{"g":"SMARCA4","m":"RNAi","l":"Prostate","s":-0.65},{"g":"SMARCA4","m":"RNAi","l":"Gastric","s":-0.22},
{"g":"IGF1R","m":"RNAi","l":"Breast","s":0.0},{"g":"IGF1R","m":"RNAi","l":"Lung","s":-0.08},{"g":"IGF1R","m":"RNAi","l":"Colorectal","s":-0.18},{"g":"IGF1R","m":"RNAi","l":"Prostate","s":-0.22},{"g":"IGF1R","m":"RNAi","l":"Gastric","s":-0.08},
{"g":"CTNNB1","m":"RNAi","l":"Breast","s":-0.08},{"g":"CTNNB1","m":"RNAi","l":"Lung","s":-0.22},{"g":"CTNNB1","m":"RNAi","l":"Colorectal","s":-1.45},{"g":"CTNNB1","m":"RNAi","l":"Prostate","s":-0.08},{"g":"CTNNB1","m":"RNAi","l":"Gastric","s":-0.8},
{"g":"EP300","m":"RNAi","l":"Breast","s":0.0},{"g":"EP300","m":"RNAi","l":"Lung","s":0.06},{"g":"EP300","m":"RNAi","l":"Colorectal","s":0.06},{"g":"EP300","m":"RNAi","l":"Prostate","s":-0.08},{"g":"EP300","m":"RNAi","l":"Gastric","s":0.06},
{"g":"PARP1","m":"RNAi","l":"Breast","s":-0.04},{"g":"PARP1","m":"RNAi","l":"Lung","s":-0.04},{"g":"PARP1","m":"RNAi","l":"Colorectal","s":-0.02},{"g":"PARP1","m":"RNAi","l":"Prostate","s":0.05},{"g":"PARP1","m":"RNAi","l":"Gastric","s":-0.04},
{"g":"EGFR","m":"RNAi","l":"Breast","s":-0.12},{"g":"EGFR","m":"RNAi","l":"Lung","s":-0.12},{"g":"EGFR","m":"RNAi","l":"Colorectal","s":-0.18},{"g":"EGFR","m":"RNAi","l":"Prostate","s":0.08},{"g":"EGFR","m":"RNAi","l":"Gastric","s":-0.08},
{"g":"EED","m":"RNAi","l":"Breast","s":-0.22},{"g":"EED","m":"RNAi","l":"Lung","s":0.0},{"g":"EED","m":"RNAi","l":"Colorectal","s":-0.08},{"g":"EED","m":"RNAi","l":"Prostate","s":-0.22},{"g":"EED","m":"RNAi","l":"Gastric","s":-0.08},
{"g":"ZFP91","m":"RNAi","l":"Breast","s":0.06},{"g":"ZFP91","m":"RNAi","l":"Lung","s":0.0},{"g":"ZFP91","m":"RNAi","l":"Colorectal","s":0.04},{"g":"ZFP91","m":"RNAi","l":"Prostate","s":0.06},{"g":"ZFP91","m":"RNAi","l":"Gastric","s":0.02},
{"g":"HDAC1","m":"RNAi","l":"Breast","s":-0.04},{"g":"HDAC1","m":"RNAi","l":"Lung","s":-0.04},{"g":"HDAC1","m":"RNAi","l":"Colorectal","s":-0.04},{"g":"HDAC1","m":"RNAi","l":"Prostate","s":-0.08},{"g":"HDAC1","m":"RNAi","l":"Gastric","s":-0.12},
{"g":"MAP2K1","m":"RNAi","l":"Breast","s":-0.08},{"g":"MAP2K1","m":"RNAi","l":"Lung","s":-0.04},{"g":"MAP2K1","m":"RNAi","l":"Colorectal","s":-0.22},{"g":"MAP2K1","m":"RNAi","l":"Prostate","s":0.08},{"g":"MAP2K1","m":"RNAi","l":"Gastric","s":-0.12},
{"g":"FLT3","m":"RNAi","l":"Breast","s":-0.04},{"g":"FLT3","m":"RNAi","l":"Lung","s":-0.04},{"g":"FLT3","m":"RNAi","l":"Colorectal","s":-0.04},{"g":"FLT3","m":"RNAi","l":"Prostate","s":0.0},{"g":"FLT3","m":"RNAi","l":"Gastric","s":-0.02},
{"g":"JAK3","m":"RNAi","l":"Breast","s":-0.02},{"g":"JAK3","m":"RNAi","l":"Lung","s":-0.02},{"g":"JAK3","m":"RNAi","l":"Colorectal","s":-0.04},{"g":"JAK3","m":"RNAi","l":"Prostate","s":-0.02},{"g":"JAK3","m":"RNAi","l":"Gastric","s":0.0},
{"g":"SRC","m":"RNAi","l":"Breast","s":-0.18},{"g":"SRC","m":"RNAi","l":"Lung","s":-0.22},{"g":"SRC","m":"RNAi","l":"Colorectal","s":-0.12},{"g":"SRC","m":"RNAi","l":"Prostate","s":-0.18},{"g":"SRC","m":"RNAi","l":"Gastric","s":-0.22},
{"g":"CREBBP","m":"RNAi","l":"Breast","s":0.02},{"g":"CREBBP","m":"RNAi","l":"Lung","s":0.03},{"g":"CREBBP","m":"RNAi","l":"Colorectal","s":0.0},{"g":"CREBBP","m":"RNAi","l":"Prostate","s":0.06},{"g":"CREBBP","m":"RNAi","l":"Gastric","s":0.02},
{"g":"MAP2K2","m":"RNAi","l":"Breast","s":null},{"g":"MAP2K2","m":"RNAi","l":"Lung","s":null},{"g":"MAP2K2","m":"RNAi","l":"Colorectal","s":null},{"g":"MAP2K2","m":"RNAi","l":"Prostate","s":null},{"g":"MAP2K2","m":"RNAi","l":"Gastric","s":null},
{"g":"MAPK14","m":"RNAi","l":"Breast","s":0.03},{"g":"MAPK14","m":"RNAi","l":"Lung","s":0.03},{"g":"MAPK14","m":"RNAi","l":"Colorectal","s":0.03},{"g":"MAPK14","m":"RNAi","l":"Prostate","s":0.07},{"g":"MAPK14","m":"RNAi","l":"Gastric","s":0.03},
{"g":"AR","m":"RNAi","l":"Breast","s":-0.02},{"g":"AR","m":"RNAi","l":"Lung","s":-0.04},{"g":"AR","m":"RNAi","l":"Colorectal","s":-0.02},{"g":"AR","m":"RNAi","l":"Prostate","s":-0.6},{"g":"AR","m":"RNAi","l":"Gastric","s":-0.04},
{"g":"BRAF","m":"RNAi","l":"Breast","s":0.0},{"g":"BRAF","m":"RNAi","l":"Lung","s":0.0},{"g":"BRAF","m":"RNAi","l":"Colorectal","s":-0.3},{"g":"BRAF","m":"RNAi","l":"Prostate","s":-0.02},{"g":"BRAF","m":"RNAi","l":"Gastric","s":0.0},
{"g":"JAK1","m":"RNAi","l":"Breast","s":0.0},{"g":"JAK1","m":"RNAi","l":"Lung","s":-0.04},{"g":"JAK1","m":"RNAi","l":"Colorectal","s":0.02},{"g":"JAK1","m":"RNAi","l":"Prostate","s":0.08},{"g":"JAK1","m":"RNAi","l":"Gastric","s":0.03},
{"g":"ESR1","m":"RNAi","l":"Breast","s":-0.4},{"g":"ESR1","m":"RNAi","l":"Lung","s":-0.12},{"g":"ESR1","m":"RNAi","l":"Colorectal","s":-0.12},{"g":"ESR1","m":"RNAi","l":"Prostate","s":-0.18},{"g":"ESR1","m":"RNAi","l":"Gastric","s":-0.18},
{"g":"EZH2","m":"RNAi","l":"Breast","s":-0.04},{"g":"EZH2","m":"RNAi","l":"Lung","s":0.0},{"g":"EZH2","m":"RNAi","l":"Colorectal","s":-0.04},{"g":"EZH2","m":"RNAi","l":"Prostate","s":-0.4},{"g":"EZH2","m":"RNAi","l":"Gastric","s":-0.18},
{"g":"STAT3","m":"RNAi","l":"Breast","s":-0.22},{"g":"STAT3","m":"RNAi","l":"Lung","s":-0.22},{"g":"STAT3","m":"RNAi","l":"Colorectal","s":-0.12},{"g":"STAT3","m":"RNAi","l":"Prostate","s":-0.18},{"g":"STAT3","m":"RNAi","l":"Gastric","s":-0.12},
{"g":"LRRK2","m":"RNAi","l":"Breast","s":-0.18},{"g":"LRRK2","m":"RNAi","l":"Lung","s":-0.18},{"g":"LRRK2","m":"RNAi","l":"Colorectal","s":-0.18},{"g":"LRRK2","m":"RNAi","l":"Prostate","s":-0.22},{"g":"LRRK2","m":"RNAi","l":"Gastric","s":-0.18},
{"g":"PDE6D","m":"RNAi","l":"Breast","s":-0.18},{"g":"PDE6D","m":"RNAi","l":"Lung","s":-0.18},{"g":"PDE6D","m":"RNAi","l":"Colorectal","s":-0.18},{"g":"PDE6D","m":"RNAi","l":"Prostate","s":-0.18},{"g":"PDE6D","m":"RNAi","l":"Gastric","s":-0.08},
{"g":"MAPT","m":"RNAi","l":"Breast","s":0.27},{"g":"MAPT","m":"RNAi","l":"Lung","s":0.25},{"g":"MAPT","m":"RNAi","l":"Colorectal","s":0.25},{"g":"MAPT","m":"RNAi","l":"Prostate","s":0.23},{"g":"MAPT","m":"RNAi","l":"Gastric","s":0.27},
{"g":"GSK3B","m":"RNAi","l":"Breast","s":0.06},{"g":"GSK3B","m":"RNAi","l":"Lung","s":0.06},{"g":"GSK3B","m":"RNAi","l":"Colorectal","s":-0.04},{"g":"GSK3B","m":"RNAi","l":"Prostate","s":0.06},{"g":"GSK3B","m":"RNAi","l":"Gastric","s":0.03},
{"g":"TGFB1","m":"RNAi","l":"Breast","s":-0.02},{"g":"TGFB1","m":"RNAi","l":"Lung","s":-0.02},{"g":"TGFB1","m":"RNAi","l":"Colorectal","s":-0.02},{"g":"TGFB1","m":"RNAi","l":"Prostate","s":-0.03},{"g":"TGFB1","m":"RNAi","l":"Gastric","s":-0.04},
{"g":"IRAK4","m":"RNAi","l":"Breast","s":0.0},{"g":"IRAK4","m":"RNAi","l":"Lung","s":0.0},{"g":"IRAK4","m":"RNAi","l":"Colorectal","s":0.0},{"g":"IRAK4","m":"RNAi","l":"Prostate","s":0.05},{"g":"IRAK4","m":"RNAi","l":"Gastric","s":0.06},
{"g":"BCL6","m":"RNAi","l":"Breast","s":-0.22},{"g":"BCL6","m":"RNAi","l":"Lung","s":-0.18},{"g":"BCL6","m":"RNAi","l":"Colorectal","s":-0.12},{"g":"BCL6","m":"RNAi","l":"Prostate","s":-0.18},{"g":"BCL6","m":"RNAi","l":"Gastric","s":-0.18},
{"g":"ALK","m":"RNAi","l":"Breast","s":0.06},{"g":"ALK","m":"RNAi","l":"Lung","s":0.03},{"g":"ALK","m":"RNAi","l":"Colorectal","s":0.03},{"g":"ALK","m":"RNAi","l":"Prostate","s":0.03},{"g":"ALK","m":"RNAi","l":"Gastric","s":0.06},
{"g":"HDAC6","m":"RNAi","l":"Breast","s":-0.04},{"g":"HDAC6","m":"RNAi","l":"Lung","s":-0.04},{"g":"HDAC6","m":"RNAi","l":"Colorectal","s":-0.04},{"g":"HDAC6","m":"RNAi","l":"Prostate","s":-0.04},{"g":"HDAC6","m":"RNAi","l":"Gastric","s":-0.04},
{"g":"BTK","m":"RNAi","l":"Breast","s":-0.04},{"g":"BTK","m":"RNAi","l":"Lung","s":0.02},{"g":"BTK","m":"RNAi","l":"Colorectal","s":0.03},{"g":"BTK","m":"RNAi","l":"Prostate","s":0.05},{"g":"BTK","m":"RNAi","l":"Gastric","s":0.05},
{"g":"ABL","m":"RNAi","l":"Breast","s":-0.12},{"g":"ABL","m":"RNAi","l":"Lung","s":-0.18},{"g":"ABL","m":"RNAi","l":"Colorectal","s":-0.18},{"g":"ABL","m":"RNAi","l":"Prostate","s":-0.12},{"g":"ABL","m":"RNAi","l":"Gastric","s":-0.26},
{"g":"FLT1","m":"RNAi","l":"Breast","s":-0.08},{"g":"FLT1","m":"RNAi","l":"Lung","s":0.0},{"g":"FLT1","m":"RNAi","l":"Colorectal","s":-0.04},{"g":"FLT1","m":"RNAi","l":"Prostate","s":-0.08},{"g":"FLT1","m":"RNAi","l":"Gastric","s":-0.02},
{"g":"SMARCA2","m":"RNAi","l":"Breast","s":-0.12},{"g":"SMARCA2","m":"RNAi","l":"Lung","s":-0.3},{"g":"SMARCA2","m":"RNAi","l":"Colorectal","s":-0.04},{"g":"SMARCA2","m":"RNAi","l":"Prostate","s":-0.18},{"g":"SMARCA2","m":"RNAi","l":"Gastric","s":-0.08},
{"g":"EEF2K","m":"RNAi","l":"Breast","s":null},{"g":"EEF2K","m":"RNAi","l":"Lung","s":null},{"g":"EEF2K","m":"RNAi","l":"Colorectal","s":null},{"g":"EEF2K","m":"RNAi","l":"Prostate","s":null},{"g":"EEF2K","m":"RNAi","l":"Gastric","s":null},
{"g":"SLC9A1","m":"RNAi","l":"Breast","s":-0.04},{"g":"SLC9A1","m":"RNAi","l":"Lung","s":-0.04},{"g":"SLC9A1","m":"RNAi","l":"Colorectal","s":-0.04},{"g":"SLC9A1","m":"RNAi","l":"Prostate","s":-0.02},{"g":"SLC9A1","m":"RNAi","l":"Gastric","s":-0.08},
{"g":"RIPK2","m":"RNAi","l":"Breast","s":-0.08},{"g":"RIPK2","m":"RNAi","l":"Lung","s":-0.04},{"g":"RIPK2","m":"RNAi","l":"Colorectal","s":-0.04},{"g":"RIPK2","m":"RNAi","l":"Prostate","s":-0.18},{"g":"RIPK2","m":"RNAi","l":"Gastric","s":-0.08},
{"g":"BCR","m":"RNAi","l":"Breast","s":0.02},{"g":"BCR","m":"RNAi","l":"Lung","s":0.02},{"g":"BCR","m":"RNAi","l":"Colorectal","s":0.02},{"g":"BCR","m":"RNAi","l":"Prostate","s":0.0},{"g":"BCR","m":"RNAi","l":"Gastric","s":0.02},
{"g":"CYP1B1","m":"RNAi","l":"Breast","s":0.03},{"g":"CYP1B1","m":"RNAi","l":"Lung","s":0.03},{"g":"CYP1B1","m":"RNAi","l":"Colorectal","s":0.03},{"g":"CYP1B1","m":"RNAi","l":"Prostate","s":0.05},{"g":"CYP1B1","m":"RNAi","l":"Gastric","s":0.03},
{"g":"MAPK11","m":"RNAi","l":"Breast","s":-0.3},{"g":"MAPK11","m":"RNAi","l":"Lung","s":-0.3},{"g":"MAPK11","m":"RNAi","l":"Colorectal","s":-0.26},{"g":"MAPK11","m":"RNAi","l":"Prostate","s":-0.3},{"g":"MAPK11","m":"RNAi","l":"Gastric","s":-0.26},
{"g":"JAK2","m":"RNAi","l":"Breast","s":-0.12},{"g":"JAK2","m":"RNAi","l":"Lung","s":-0.08},{"g":"JAK2","m":"RNAi","l":"Colorectal","s":-0.04},{"g":"JAK2","m":"RNAi","l":"Prostate","s":-0.08},{"g":"JAK2","m":"RNAi","l":"Gastric","s":-0.04},
{"g":"SGK3","m":"RNAi","l":"Breast","s":0.27},{"g":"SGK3","m":"RNAi","l":"Lung","s":0.27},{"g":"SGK3","m":"RNAi","l":"Colorectal","s":0.25},{"g":"SGK3","m":"RNAi","l":"Prostate","s":0.25},{"g":"SGK3","m":"RNAi","l":"Gastric","s":0.27},
{"g":"CD274","m":"RNAi","l":"Breast","s":-0.02},{"g":"CD274","m":"RNAi","l":"Lung","s":-0.02},{"g":"CD274","m":"RNAi","l":"Colorectal","s":-0.04},{"g":"CD274","m":"RNAi","l":"Prostate","s":-0.08},{"g":"CD274","m":"RNAi","l":"Gastric","s":-0.02}
]
},
"hconcat": [
{
"width": 235, "height": 979.7,
"encoding": {
"x": {"field": "col", "type": "nominal", "scale": {"domain": ["Gene", "CRISPR", "RNAi"], "paddingInner": 0, "paddingOuter": 0}, "axis": null, "title": null},
"y": {"field": "row", "type": "nominal", "scale": {"domain": ["h1","h2","PLK1","BRD4","BCL2L1","CDK2","PIK3C3","AURKA","CDK9","HMGCR","PTPN11","PTK2","CDK4","MCL1","BRAF","EGFR","ESR1","HDAC1","IGF1R","JAK1","JAK2","JAK3","KRAS","MDM2","MAP2K1","STAT3","CTNNB1","FLT3","ABL","ALK","CREBBP","BCL6","BCR","MAP2K2","AR","CDK6","EED","SMARCA2","BTK","EP300","RPRD1B","CYP1B1","EZH2","FLT1","GSK3B","HDAC6","SRC","IRAK4","LRRK2","MAPK14","MAPK11","PARP1","PDE6D","CD274","RIPK2","SLC9A1","MAPT","TGFB1","ZFP91","SMARCA4","SGK3","EEF2K"], "paddingInner": 0, "paddingOuter": 0}, "axis": null, "title": null}
},
"layer": [
{"data": {"name": "effectHeader"}, "mark": {"type": "rect"},
 "encoding": {"fill": {"field": "cat", "type": "nominal", "scale": {"domain": ["CE","SC","SS","NE","ND","header","gene"], "range": ["#FF9999","#F8CBAD","#FFE699","#C5E0B4","#F0F0F0","#9DC3E6","#DAE3F3"]}, "legend": null}}},
{"data": {"name": "tableCells"}, "mark": {"type": "rect", "stroke": "white", "strokeWidth": 2},
 "encoding": {"fill": {"field": "cat", "type": "nominal", "scale": {"domain": ["CE","SC","SS","NE","ND","header","gene"], "range": ["#FF9999","#F8CBAD","#FFE699","#C5E0B4","#F0F0F0","#9DC3E6","#DAE3F3"]}, "legend": null}}},
{"data": {"name": "tableCells"}, "transform": [{"filter": "datum.cat == 'header'"}], "mark": {"type": "text", "fontSize": 12.8, "color": "black"},
 "encoding": {"text": {"field": "label"}}},
{"data": {"name": "tableCells"}, "transform": [{"filter": "datum.cat == 'gene'"}], "mark": {"type": "text", "fontSize": 12.7, "fontStyle": "italic", "color": "black"},
 "encoding": {"text": {"field": "label"}}},
{"data": {"values": [{"label": "Effect in cell lines"}]}, "mark": {"type": "text", "fontSize": 12.8, "color": "black"},
 "encoding": {"x": {"datum": "RNAi", "type": "nominal", "bandPosition": 0}, "y": {"datum": "h1", "type": "nominal"}, "text": {"field": "label"}}},
{"data": {"values": [{"label": "A"}]}, "mark": {"type": "text", "fontSize": 20, "fontWeight": "bold", "align": "left", "baseline": "alphabetic", "dx": -34.5, "dy": 11, "color": "black"},
 "encoding": {"x": {"datum": "Gene", "type": "nominal", "bandPosition": 0}, "y": {"datum": "h1", "type": "nominal", "bandPosition": 0}, "text": {"field": "label"}}}
]
},
{
"width": 102, "height": 100,
"data": {"name": "legendA"},
"encoding": {
"x": {"datum": "k", "type": "nominal", "scale": {"paddingInner": 0, "paddingOuter": 0}, "axis": null, "title": null},
"y": {"field": "slot", "type": "nominal", "scale": {"domain": ["L1","L2","L3","L4","L5","L6","L7"], "paddingInner": 0, "paddingOuter": 0}, "axis": null, "title": null}
},
"layer": [
{"mark": {"type": "rect"}, "encoding": {"fill": {"field": "cat", "type": "nominal", "scale": {"domain": ["CE","SC","SS","NE","ND","header","gene"], "range": ["#FF9999","#F8CBAD","#FFE699","#C5E0B4","#F0F0F0","#9DC3E6","#DAE3F3"]}, "legend": null}}},
{"mark": {"type": "text", "fontSize": 11.3, "color": "black"}, "encoding": {"text": {"field": "label"}}}
]
},
{
"data": {"name": "heat"},
"spacing": 35.6,
"facet": {"column": {"field": "m", "type": "nominal", "sort": ["CRISPR", "RNAi"], "title": null,
  "header": {"labelFontSize": 14, "labelFont": "Liberation Sans", "labelColor": "black", "labelPadding": -28, "labelBaseline": "alphabetic"}}},
"spec": {
"width": 100, "height": 925,
"encoding": {
"x": {"field": "l", "type": "nominal", "sort": ["Breast","Lung","Colorectal","Prostate","Gastric"], "title": null,
  "scale": {"paddingInner": 0, "paddingOuter": 0},
  "axis": {"domain": false, "ticks": true, "tickColor": "black", "tickSize": 5, "offset": 3, "labelAngle": -45, "labelFontSize": 12.5, "labelColor": "black", "labelPadding": 1, "labelOverlap": false, "grid": false}},
"y": {"field": "g", "type": "nominal", "title": "B",
  "sort": ["PLK1","CDK9","AURKA","BCL2L1","HMGCR","BRD4","CDK2","PIK3C3","CDK4","MCL1","PTPN11","PTK2","KRAS","RPRD1B","CDK6","MDM2","SMARCA4","IGF1R","CTNNB1","EP300","PARP1","EGFR","EED","ZFP91","HDAC1","MAP2K1","FLT3","JAK3","SRC","CREBBP","MAP2K2","MAPK14","AR","BRAF","JAK1","ESR1","EZH2","STAT3","LRRK2","PDE6D","MAPT","GSK3B","TGFB1","IRAK4","BCL6","ALK","HDAC6","BTK","ABL","FLT1","SMARCA2","EEF2K","SLC9A1","RIPK2","BCR","CYP1B1","MAPK11","JAK2","SGK3","CD274"],
  "scale": {"paddingInner": 0, "paddingOuter": 1.103, "align": 1},
  "axis": {"domain": false, "ticks": false, "labelFontSize": 12.9, "labelFontStyle": "italic", "labelColor": "black", "labelPadding": 9, "labelOverlap": false, "grid": false,
    "titleAngle": 0, "titleX": -70, "titleY": 11, "titleAlign": "left", "titleBaseline": "alphabetic", "titleFontSize": 20, "titleFontWeight": "bold", "titleColor": "black"}}
},
"layer": [
{"transform": [{"filter": "isValid(datum.s)"}],
 "mark": {"type": "rect", "stroke": "white", "strokeWidth": 0.8, "strokeOpacity": 0.5},
 "encoding": {"color": {"field": "s", "type": "quantitative", "title": "Score",
   "scale": {"domain": [0.3, 0, -0.5, -1, -1.5, -1.95], "range": ["#CBF3E8", "#FEFBE0", "#E9AF98", "#D46D5F", "#C03C35", "#A50000"], "nice": false},
   "legend": {"orient": "none", "legendX": 672, "legendY": 33, "direction": "vertical",
     "values": [-1.5, -1, -0.5, 0], "labelExpr": "datum.value == 0 ? '0' : (datum.value == -1 ? '-1.0' : toString(datum.value))",
     "labelOverlap": false, "titleOrient": "right", "titleAngle": -90, "titleAnchor": "middle", "padding": 0}}}},
{"transform": [{"filter": "!isValid(datum.s)"}],
 "mark": {"type": "point", "shape": "M-1,-0.74L1,0.74M-1,0.74L1,-0.74", "size": 400, "filled": false, "color": "black", "strokeWidth": 1, "opacity": 1}}
]
}
}
]
}
